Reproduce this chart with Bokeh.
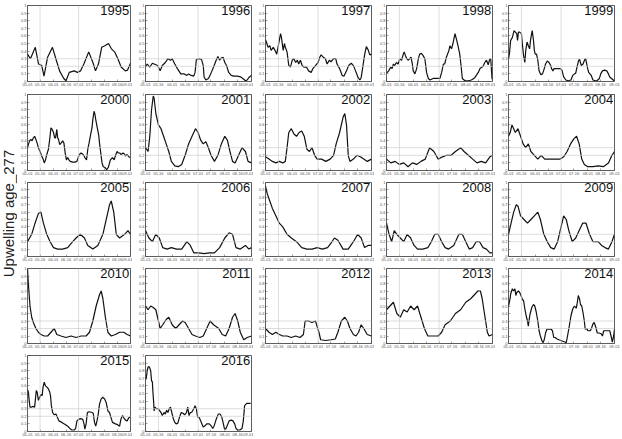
import math

from bokeh.core.properties import value
from bokeh.embed import file_html
from bokeh.layouts import gridplot, row
from bokeh.models import FixedTicker, Range1d, Span
from bokeh.plotting import figure
from bokeh.resources import INLINE

# x axis: days since 1 May; ticks every half month up to 1 September
TICK_DAYS = [0, 15, 31, 46, 61, 76, 92, 107, 123]
TICK_LABELS = ["05-01", "05-16", "06-01", "06-16", "07-01", "07-16", "08-01", "08-16", "09-01"]
Y_TICKS = [0, 0.1, 0.2, 0.3, 0.4, 0.5, 0.6, 0.7, 0.8, 0.9, 1]
Y_TICK_LABELS = ["0", "0.1", "0.2", "0.3", "0.4", "0.5", "0.6", "0.7", "0.8", "0.9", "1"]
REF_DAYS = [15, 61]
REF_LEVELS = [0.2, 0.3]
Y_LABEL = "Upwelling age_277"

# (day since 1 May, upwelling age) per season
AGE_1995 = [(0, .36), (3.5, .30), (9.3, .45), (13.2, .23), (17, .21), (19.7, .07), (24, .32), (29.8, .45),
            (34.4, .28), (38.3, .14), (43.3, .04), (46, .01), (49.9, .12), (55.7, .14), (59.6, .12), (63.4, .14),
            (67.3, .23), (73.1, .39), (78.1, .25), (81.2, .14), (84.7, .23), (88.6, .45), (92.4, .47), (96.7, .50),
            (100.2, .43), (104, .39), (107.9, .30), (111.8, .19), (116.8, .14), (119.5, .15), (123, .24)]
AGE_1996 = [(0, .20), (2, .23), (5, .19), (8, .24), (12, .22), (14, .21), (17, .14), (19.5, .21), (23, .25),
            (26, .30), (29, .28), (31, .30), (34, .23), (37, .17), (41, .10), (45, .10), (48, .08), (50, .10),
            (53, .08), (56, .07), (57.5, .12), (59, .29), (62.5, .30), (65, .29), (67, .21), (68, .06), (70, .02),
            (73, .04), (76, .11), (79, .19), (82, .28), (84, .33), (86, .28), (88, .31), (90, .32), (92, .25),
            (94, .21), (96.5, .12), (99.5, .08), (102.5, .07), (106.5, .07), (110.5, .06), (113, .04), (116, .01),
            (118, .02), (120.5, .06), (123, .08)]
AGE_1997 = [(0, .55), (1, .52), (3, .45), (5, .47), (6.5, .41), (9, .45), (11, .41), (13, .36), (14.5, .45),
            (16, .54), (17.5, .63), (18.5, .58), (20.5, .41), (22, .50), (23, .45), (25, .39), (27, .21), (29, .19),
            (31, .28), (33, .30), (35, .25), (37, .28), (38.5, .23), (40.5, .28), (42.5, .21), (44.5, .19),
            (47.5, .19), (50, .14), (53, .12), (55, .17), (58, .21), (61, .25), (63, .32), (64.5, .35), (67, .32),
            (69.5, .30), (71.5, .23), (74, .28), (76, .26), (79, .30), (81.5, .30), (83, .23), (86, .17), (89, .08),
            (91, .07), (94, .14), (96.5, .21), (99.5, .24), (102, .21), (104.5, .14), (107.5, .05), (109.5, .02),
            (111, .05), (113, .20), (115, .35), (117, .46), (119, .42), (121, .35), (123, .36)]
AGE_1998 = [(0, .12), (1, .12), (2.5, .14), (5, .19), (6.5, .17), (8, .23), (9.5, .21), (11.5, .25), (13.5, .23),
            (15.5, .30), (17.5, .28), (19.5, .36), (20.5, .39), (22, .34), (23.5, .30), (25, .28), (27, .30),
            (28.5, .32), (30, .23), (31, .14), (33, .10), (35, .17), (37, .30), (38.5, .36), (40.5, .37), (42.5, .34),
            (44.5, .30), (46.5, .12), (48.5, .04), (50.5, .02), (54, .04), (58, .04), (62, .04), (64, .12), (66, .23),
            (67.5, .23), (69.5, .32), (72.5, .41), (73.5, .47), (75.5, .43), (77.5, .52), (79.5, .63), (81.5, .54),
            (83, .47), (85, .36), (86.5, .21), (88, .04), (91, .01), (95, .01), (98.5, .02), (102.5, .05),
            (106.5, .12), (108.5, .17), (111, .19), (112.5, .21), (114, .25), (116, .28), (118, .22), (120, .30),
            (121, .29), (122.5, .03)]
AGE_1999 = [(0, .30), (1, .36), (2.5, .54), (4.5, .58), (6.5, .67), (8, .65), (9.5, .63), (10.5, .54), (11.5, .65),
            (13, .65), (15, .63), (16, .50), (17.5, .34), (19, .25), (20, .41), (21.5, .52), (23, .47), (24.5, .43),
            (25.5, .54), (27.5, .67), (29, .54), (30, .41), (31, .36), (32.5, .36), (34, .28), (35.5, .14),
            (37.5, .09), (39.5, .10), (41.5, .17), (43, .23), (45, .27), (47, .25), (49, .21), (50, .17), (51.5, .14),
            (53, .17), (56.5, .17), (60, .17), (62, .15), (64, .06), (66.5, .02), (69.5, .01), (72.5, .02),
            (74.5, .08), (76.5, .10), (78, .11), (79.5, .19), (81.5, .28), (82.5, .29), (84.5, .21), (86.5, .23),
            (88.5, .29), (89.5, .30), (91.5, .19), (93, .12), (96, .08), (98, .02), (100.5, .01), (102.5, .01),
            (105.5, .04), (107, .10), (109, .14), (111.5, .15), (114, .14), (116, .10), (117.5, .06), (120.5, .03),
            (122.5, .01)]
AGE_2000 = [(0, .30), (1, .34), (2.5, .39), (4, .41), (5.5, .39), (7, .43), (8.5, .45), (10, .41), (11.5, .36),
            (13, .30), (15, .25), (17, .19), (19, .14), (20, .10), (21.5, .14), (23, .21), (25, .28), (26.5, .41),
            (28, .56), (29.5, .54), (31, .50), (32.5, .43), (33.5, .43), (35, .54), (36, .43), (37, .41), (38.5, .34),
            (40, .36), (42, .39), (43.5, .36), (45, .23), (46.5, .14), (48, .17), (49.5, .14), (51, .12), (54, .11),
            (56.5, .11), (59, .12), (60.5, .17), (62, .21), (64, .23), (66.5, .21), (68.5, .17), (70.5, .14),
            (72, .28), (73.5, .36), (75, .45), (77, .56), (78, .67), (79.5, .78), (80.5, .74), (81.5, .67),
            (83, .58), (85, .47), (86, .36), (87.5, .23), (89, .10), (90.5, .05), (92.5, .04), (94.5, .01),
            (96.5, .04), (97.5, .08), (99, .14), (101.5, .17), (103.5, .14), (105.5, .21), (107, .25), (108.5, .23),
            (110, .23), (112, .21), (114, .23), (115.5, .22), (117, .19), (118.5, .21), (120.5, .19), (122, .17)]
AGE_2001 = [(0, .30), (3, .25), (5, .45), (7, .80), (9, .98), (10, .95), (12, .75), (15, .60), (18, .55), (21, .45),
            (24, .35), (27, .25), (30, .12), (34, .06), (38, .05), (42, .08), (46, .20), (50, .35), (54, .45),
            (58, .55), (61, .50), (64, .40), (67, .35), (70, .38), (73, .30), (76, .20), (80, .12), (84, .20),
            (88, .35), (92, .45), (95, .40), (98, .25), (101, .12), (104, .10), (108, .20), (112, .30), (116, .25),
            (119, .12), (123, .10)]
AGE_2002 = [(0, .18), (4, .15), (8, .12), (12, .10), (16, .12), (20, .10), (23, .12), (25, .30), (27, .50),
            (30, .55), (33, .48), (36, .45), (39, .50), (42, .52), (45, .45), (48, .28), (51, .25), (54, .30),
            (57, .20), (60, .15), (65, .15), (70, .12), (75, .15), (79, .20), (82, .35), (86, .50), (90, .70),
            (92, .75), (94, .60), (96, .20), (98, .12), (102, .15), (106, .20), (110, .18), (114, .15), (118, .12),
            (123, .15)]
AGE_2003 = [(0, .15), (5, .10), (10, .12), (15, .08), (20, .10), (25, .05), (30, .10), (35, .08), (40, .12),
            (45, .15), (50, .30), (55, .25), (60, .15), (65, .18), (70, .20), (75, .20), (80, .25), (86, .30),
            (90, .25), (95, .20), (100, .15), (105, .10), (110, .12), (115, .10), (120, .18), (123, .20)]
AGE_2004 = [(0, .45), (2, .50), (4, .60), (6, .55), (8, .50), (11, .55), (14, .45), (17, .35), (20, .30), (23, .35),
            (26, .25), (30, .20), (34, .15), (38, .20), (42, .15), (48, .15), (54, .15), (60, .15), (64, .18),
            (68, .25), (72, .35), (76, .42), (79, .45), (82, .35), (85, .15), (88, .08), (92, .05), (98, .05),
            (104, .06), (110, .05), (116, .10), (120, .20), (123, .25)]
AGE_2005 = [(0, .20), (5, .30), (9, .45), (13, .58), (16, .60), (19, .45), (23, .30), (27, .20), (31, .12),
            (36, .10), (42, .10), (48, .12), (54, .20), (58, .25), (63, .30), (68, .25), (72, .15), (78, .10),
            (84, .15), (90, .30), (95, .55), (98, .70), (100, .75), (103, .60), (106, .30), (110, .25), (116, .30),
            (120, .35), (123, .30)]
AGE_2006 = [(0, .35), (4, .25), (8, .20), (12, .30), (16, .25), (20, .12), (25, .10), (30, .12), (36, .10),
            (42, .10), (48, .20), (52, .15), (56, .05), (62, .05), (68, .04), (74, .05), (80, .05), (86, .12),
            (92, .25), (97, .32), (101, .30), (105, .12), (110, .10), (116, .15), (120, .10), (123, .12)]
AGE_2007 = [(0, .95), (2, .85), (5, .75), (8, .65), (12, .55), (16, .45), (20, .40), (25, .30), (30, .25),
            (36, .20), (42, .12), (48, .10), (54, .10), (60, .12), (66, .10), (72, .12), (76, .18), (80, .25),
            (84, .22), (90, .10), (96, .10), (102, .20), (107, .30), (111, .25), (115, .12), (119, .15), (123, .15)]
AGE_2008 = [(0, .45), (3, .30), (6, .20), (9, .35), (12, .30), (16, .25), (20, .20), (24, .30), (28, .25),
            (32, .15), (36, .10), (42, .10), (48, .12), (52, .20), (56, .30), (60, .30), (64, .20), (68, .12),
            (72, .10), (78, .15), (84, .30), (88, .30), (92, .20), (96, .10), (100, .12), (104, .20), (108, .20),
            (112, .12), (116, .10), (120, .05), (123, .05)]
AGE_2009 = [(0, .30), (3, .45), (6, .60), (9, .70), (11, .68), (14, .55), (18, .50), (22, .45), (26, .50),
            (30, .55), (34, .60), (37, .50), (41, .30), (45, .20), (49, .12), (53, .10), (57, .20), (61, .40),
            (64, .55), (67, .50), (70, .35), (74, .20), (78, .25), (82, .35), (86, .45), (90, .45), (94, .30),
            (98, .20), (104, .20), (108, .15), (112, .12), (116, .10), (120, .20), (123, .30)]
AGE_2010 = [(0, 1.0), (1, .80), (3, .50), (5, .35), (7, .28), (10, .20), (13, .15), (16, .12), (20, .10),
            (24, .10), (28, .15), (32, .20), (35, .12), (40, .10), (46, .08), (52, .10), (58, .08), (64, .10),
            (70, .10), (74, .15), (78, .30), (82, .50), (86, .65), (88, .70), (90, .60), (93, .35), (96, .15),
            (100, .10), (105, .12), (110, .15), (115, .15), (119, .12), (123, .10)]
AGE_2011 = [(0, .50), (3, .45), (6, .50), (9, .48), (12, .45), (15, .30), (17, .20), (20, .25), (24, .32),
            (27, .35), (31, .25), (35, .20), (39, .25), (43, .30), (46, .28), (50, .20), (54, .12), (58, .10),
            (63, .08), (67, .10), (71, .20), (75, .30), (79, .25), (85, .20), (89, .12), (93, .10), (97, .20),
            (101, .35), (104, .40), (107, .30), (110, .15), (114, .05), (118, .08), (123, .10)]
AGE_2012 = [(0, .20), (4, .15), (8, .12), (12, .15), (16, .12), (20, .10), (25, .10), (30, .08), (35, .10),
            (40, .08), (44, .12), (46, .30), (50, .30), (54, .28), (58, .30), (62, .15), (64, .05), (70, .04),
            (76, .05), (81, .06), (84, .15), (88, .30), (92, .35), (95, .30), (98, .20), (102, .12), (105, .10),
            (108, .15), (111, .25), (114, .20), (118, .12), (123, .10)]
AGE_2013 = [(0, .45), (4, .50), (8, .55), (12, .40), (16, .35), (20, .45), (24, .42), (28, .50), (32, .45),
            (36, .50), (40, .35), (44, .20), (48, .10), (54, .10), (60, .10), (64, .15), (68, .25), (74, .30),
            (80, .40), (86, .45), (92, .55), (98, .60), (102, .65), (106, .70), (109, .70), (111, .60), (113, .45),
            (115, .30), (117, .15), (119, .10), (123, .12)]
AGE_2014 = [(0, .50), (1, .55), (2, .61), (2.5, .66), (4.5, .73), (6, .70), (7.5, .73), (8.5, .64), (9.5, .68),
            (11.5, .70), (13, .68), (14.5, .64), (16, .59), (17.5, .57), (19, .46), (20.5, .37), (22, .30),
            (23, .23), (24, .32), (25, .39), (27, .48), (28, .50), (29, .52), (30.5, .50), (32, .43), (34, .30),
            (35.5, .17), (37, .10), (39, .03), (40, .01), (41.5, .05), (43, .14), (44.5, .19), (47, .19), (49.5, .19),
            (51, .17), (52.5, .08), (54, .08), (56.5, .06), (58.5, .05), (61, .04), (63, .03), (65.5, .02),
            (67, .01), (68.5, .10), (70.5, .23), (72.5, .37), (74.5, .46), (76.5, .50), (78.5, .47), (79.5, .52),
            (81, .64), (82.5, .59), (83.5, .52), (85, .50), (86.5, .41), (88, .30), (89, .19), (91, .20), (92, .17),
            (93.5, .17), (95, .17), (96.5, .21), (98, .26), (99.5, .28), (101.5, .21), (103, .14), (105, .14),
            (107.5, .13), (109, .10), (110.5, .17), (113, .17), (115, .17), (117.5, .17), (119, .10), (120.5, .02),
            (122, .10), (123, .19)]
AGE_2015 = [(0, .55), (1, .52), (2, .41), (3, .32), (4.5, .32), (6.5, .33), (8.5, .32), (10.5, .54), (11.5, .52),
            (13, .41), (14.5, .45), (16.5, .49), (17.5, .47), (18.5, .58), (20, .65), (21.5, .60), (23.5, .58),
            (25, .56), (26.5, .52), (27.5, .47), (28.5, .34), (30, .25), (32, .22), (34, .23), (35.5, .19),
            (37.5, .14), (39.5, .13), (42.5, .11), (45.5, .09), (48, .07), (50.5, .04), (53, .02), (56, .02),
            (57.5, .04), (59, .14), (61, .16), (63.5, .17), (66, .16), (67.5, .10), (68.5, .03), (70, .10),
            (71.5, .25), (73.5, .26), (77, .25), (78.5, .24), (80, .12), (81.5, .07), (83, .14), (84.5, .23),
            (86, .36), (88, .43), (90, .45), (92, .43), (94, .38), (96, .27), (98, .25), (99.5, .19), (101.5, .12),
            (105, .10), (107.5, .09), (110, .07), (111.5, .16), (113.5, .21), (115, .18), (117, .15), (119, .14),
            (121, .18), (122.5, .19)]
AGE_2016 = [(0, .68), (1, .71), (2, .80), (3, .85), (4.5, .85), (6, .80), (7, .67), (8, .65), (8.5, .54), (9.5, .38),
            (10, .27), (11, .32), (12.5, .30), (15, .30), (16.5, .27), (18, .25), (19.5, .21), (21.5, .25), (23, .23),
            (24.5, .28), (26, .25), (27.5, .30), (29, .32), (30.5, .25), (32.5, .16), (34, .12), (35.5, .10),
            (37.5, .11), (39.5, .19), (41.5, .25), (43.5, .24), (45.5, .22), (47.5, .25), (49, .32), (50.5, .21),
            (52, .25), (53.5, .25), (56, .30), (57.5, .34), (59, .30), (60.5, .19), (62.5, .18), (64, .14),
            (65.5, .10), (67, .06), (69.5, .08), (71, .10), (74, .10), (76.5, .07), (78, .04), (79.5, .07), (82, .16),
            (84.5, .23), (86.5, .23), (88.5, .19), (90, .12), (91.5, .04), (93, .03), (94.5, .07), (97, .14),
            (99.5, .15), (101.5, .14), (103.5, .10), (105, .04), (107, .02), (109.5, .02), (112, .04), (113.5, .14),
            (115, .34), (117.5, .37), (120, .37), (122, .37)]

PANEL_ROWS = [
    [(1995, AGE_1995), (1996, AGE_1996), (1997, AGE_1997), (1998, AGE_1998), (1999, AGE_1999)],
    [(2000, AGE_2000), (2001, AGE_2001), (2002, AGE_2002), (2003, AGE_2003), (2004, AGE_2004)],
    [(2005, AGE_2005), (2006, AGE_2006), (2007, AGE_2007), (2008, AGE_2008), (2009, AGE_2009)],
    [(2010, AGE_2010), (2011, AGE_2011), (2012, AGE_2012), (2013, AGE_2013), (2014, AGE_2014)],
    [(2015, AGE_2015), (2016, AGE_2016)],
]

# grid geometry (pixels)
COL_BORDER_LEFT = [7, 13, 12, 12, 13]
COL_BORDER_RIGHT = [2, 2, 3, 3, 8]
ROW_BORDER_BOTTOM = [8, 7, 5, 6, 8]
FRAME_W, FRAME_H, BORDER_TOP = 106, 76, 5
LABEL_W, TOTAL_H = 17, 439

FONT = "Liberation Sans"


def panel(year, pairs, col, rown):
    days = [d for d, _ in pairs]
    ages = [a for _, a in pairs]
    w = COL_BORDER_LEFT[col] + FRAME_W + COL_BORDER_RIGHT[col]
    h = BORDER_TOP + FRAME_H + ROW_BORDER_BOTTOM[rown]
    p = figure(width=w, height=h, output_backend="svg", toolbar_location=None,
               x_range=Range1d(0, 123), y_range=Range1d(0, 1),
               min_border_left=COL_BORDER_LEFT[col], min_border_right=COL_BORDER_RIGHT[col],
               min_border_top=BORDER_TOP, min_border_bottom=ROW_BORDER_BOTTOM[rown])
    p.xgrid.visible = False
    p.ygrid.visible = False
    p.outline_line_color = "#333333"
    p.outline_line_width = 0.8
    p.background_fill_color = "white"
    p.border_fill_color = "white"

    for ax in (p.xaxis[0], p.yaxis[0]):
        ax.axis_line_color = None
        ax.major_tick_in = 2
        ax.major_tick_out = 0
        ax.major_tick_line_color = "#444444"
        ax.major_tick_line_width = 0.5
        ax.minor_tick_line_color = None
        ax.major_label_text_font = FONT
        ax.major_label_text_font_size = "4px"
        ax.major_label_text_color = "#555555"
    p.xaxis.ticker = FixedTicker(ticks=TICK_DAYS)
    p.xaxis.major_label_overrides = dict(zip(TICK_DAYS, TICK_LABELS))
    p.xaxis.major_label_standoff = 1
    p.yaxis.ticker = FixedTicker(ticks=Y_TICKS)
    p.yaxis.major_label_overrides = dict(zip(Y_TICKS, Y_TICK_LABELS))
    p.yaxis.major_label_standoff = 1

    for d in REF_DAYS:
        p.add_layout(Span(location=d, dimension="height", line_color="#cfcfcf", line_width=0.7))
    for lv in REF_LEVELS:
        p.add_layout(Span(location=lv, dimension="width", line_color="#cfcfcf", line_width=0.7))

    p.line(days, ages, line_color="#111111", line_width=1.2)
    p.text(x=[121.5], y=[0.99], text=[str(year)], text_align="right", text_baseline="top",
           text_font=value(FONT), text_font_size="13px", text_color="#111111")
    return p


grid_rows = []
for r, items in enumerate(PANEL_ROWS):
    cells = [panel(y, pairs, c, r) for c, (y, pairs) in enumerate(items)]
    cells += [None] * (5 - len(cells))
    grid_rows.append(cells)

grid = gridplot(grid_rows, toolbar_location=None)

# shared y label on the left edge
lab = figure(width=LABEL_W, height=TOTAL_H, output_backend="svg", toolbar_location=None,
             x_range=Range1d(0, LABEL_W), y_range=Range1d(0, TOTAL_H),
             min_border=0, outline_line_color=None)
lab.axis.visible = False
lab.grid.visible = False
lab.text(x=[8], y=[TOTAL_H - 213], text=[Y_LABEL], angle=math.pi / 2, text_align="center",
         text_baseline="middle", text_font=value(FONT), text_font_size="15px", text_color="#222222")

page = row(lab, grid)
open("out.html", "w").write(file_html(page, INLINE))
